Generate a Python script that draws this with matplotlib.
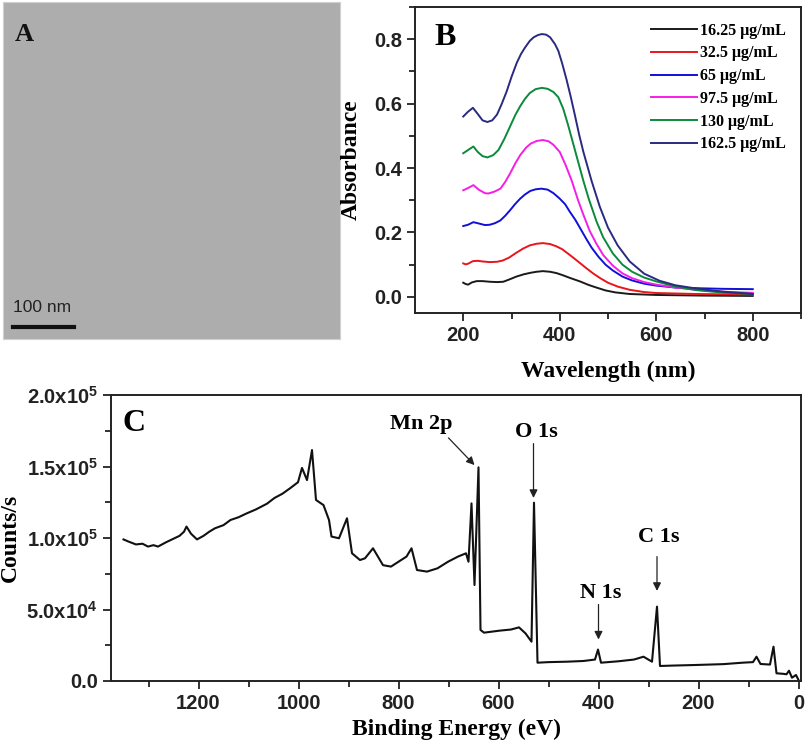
import matplotlib
matplotlib.use('Agg')
import matplotlib.pyplot as plt
from matplotlib.ticker import MultipleLocator, FixedLocator, FixedFormatter

plt.rcParams['font.family'] = ['Liberation Sans', 'DejaVu Sans']
plt.rcParams['mathtext.fontset'] = 'custom'
plt.rcParams['mathtext.rm'] = 'Liberation Sans:bold'
plt.rcParams['mathtext.it'] = 'Liberation Sans:bold'
plt.rcParams['mathtext.bf'] = 'Liberation Sans:bold'

SERIF = 'Liberation Serif'

### Panel B data: UV-vis absorbance
uv_labels = ['16.25 \u03bcg/mL', '32.5 \u03bcg/mL', '65 \u03bcg/mL',
             '97.5 \u03bcg/mL', '130 \u03bcg/mL', '162.5 \u03bcg/mL']
uv_colors = ['#1a1a1a', '#e8161b', '#1010d8', '#f51ee6', '#0a8a3a', '#2a2a80']

wl_black = [200, 205, 210, 218, 228, 240, 255, 270, 283, 297, 310, 325, 340, 352, 365, 380, 393, 405,
            421, 442, 460, 476, 495, 515, 545, 600, 700, 800]
ab_black = [0.044, 0.040, 0.038, 0.045, 0.049, 0.049, 0.047, 0.046, 0.047, 0.055, 0.063, 0.070, 0.075, 0.078, 0.080, 0.078, 0.074, 0.068,
            0.059, 0.048, 0.037, 0.029, 0.020, 0.014, 0.009, 0.006, 0.004, 0.003]

wl_red = [200, 205, 210, 220, 230, 240, 255, 270, 282, 295, 310, 324, 338, 352, 365, 380, 393, 405,
          421, 432, 442, 456, 470, 484, 500, 520, 545, 575, 600, 683, 800]
ab_red = [0.104, 0.101, 0.103, 0.111, 0.112, 0.110, 0.108, 0.109, 0.113, 0.122, 0.137, 0.150, 0.160, 0.165, 0.167, 0.164, 0.157, 0.148,
          0.130, 0.117, 0.105, 0.088, 0.072, 0.058, 0.044, 0.032, 0.022, 0.015, 0.012, 0.009, 0.007]

wl_blue = [200, 210, 221, 232, 245, 255, 266, 277, 287, 297, 308, 318, 328, 339, 350, 362, 375, 387, 400,
           411, 421, 432, 442, 455, 466, 480, 495, 510, 530, 550, 575, 600, 640, 683, 740, 800]
ab_blue = [0.220, 0.224, 0.232, 0.228, 0.223, 0.224, 0.229, 0.2375, 0.252, 0.269, 0.289, 0.305, 0.318, 0.329, 0.334, 0.336, 0.333, 0.322, 0.305,
           0.288, 0.264, 0.240, 0.214, 0.180, 0.153, 0.125, 0.100, 0.082, 0.063, 0.051, 0.041, 0.035, 0.029, 0.027, 0.025, 0.024]

wl_mag = [200, 210, 221, 232, 245, 252, 265, 277, 287, 297, 308, 318, 330, 340, 352, 365, 377, 387, 400,
          412, 425, 438, 449, 462, 476, 490, 510, 530, 550, 575, 600, 640, 683, 740, 800]
ab_mag = [0.331, 0.338, 0.347, 0.333, 0.322, 0.321, 0.327, 0.336, 0.357, 0.383, 0.415, 0.440, 0.463, 0.476, 0.484, 0.487, 0.483, 0.472, 0.450,
          0.410, 0.360, 0.300, 0.255, 0.205, 0.165, 0.130, 0.097, 0.073, 0.058, 0.046, 0.038, 0.029, 0.022, 0.016, 0.0125]

wl_green = [200, 210, 221, 230, 240, 250, 262, 273, 285, 297, 308, 318, 328, 338, 350, 363, 375, 387, 397,
            407, 417, 428, 438, 449, 460, 476, 490, 510, 530, 550, 575, 600, 640, 683, 740, 800]
ab_green = [0.446, 0.456, 0.467, 0.450, 0.437, 0.433, 0.440, 0.456, 0.490, 0.529, 0.565, 0.592, 0.615, 0.633, 0.645, 0.649, 0.646, 0.636, 0.620,
            0.585, 0.535, 0.475, 0.420, 0.360, 0.305, 0.235, 0.185, 0.135, 0.100, 0.078, 0.060, 0.048, 0.032, 0.021, 0.013, 0.009]

wl_navy = [200, 210, 220, 230, 240, 250, 260, 270, 280, 290, 300, 311, 320, 328, 338, 346, 355, 363, 372, 380, 390, 397,
           405, 414, 423, 432, 440, 449, 466, 483, 500, 520, 545, 575, 607, 640, 683, 740, 800]
ab_navy = [0.560, 0.575, 0.587, 0.568, 0.548, 0.543, 0.548, 0.566, 0.600, 0.638, 0.683, 0.727, 0.755, 0.774, 0.795, 0.806, 0.813, 0.816, 0.814, 0.806, 0.785, 0.764,
           0.725, 0.675, 0.620, 0.560, 0.505, 0.450, 0.360, 0.280, 0.215, 0.160, 0.110, 0.072, 0.050, 0.036, 0.026, 0.016, 0.009]

uv_wl = [wl_black, wl_red, wl_blue, wl_mag, wl_green, wl_navy]
uv_ab = [ab_black, ab_red, ab_blue, ab_mag, ab_green, ab_navy]

### Panel C data: XPS survey spectrum
be = [1350, 1340, 1325, 1312, 1301, 1290, 1281, 1265, 1250, 1238, 1229, 1224, 1215, 1203,
      1190, 1178, 1167, 1150, 1136, 1120, 1105, 1085, 1063, 1048, 1032, 1016, 1001, 993,
      983, 973, 965, 950, 939, 934, 919, 903, 893, 877, 867, 851, 831, 815, 800, 784,
      774, 763, 743, 722, 701, 681, 665, 660, 654, 648, 640, 636, 629, 598, 575, 559,
      546, 534, 529, 522, 500, 463, 430, 407, 401, 395, 360, 329, 310, 293, 283, 277,
      250, 205, 150, 112, 91, 84, 76, 57, 50, 44, 30, 24, 19, 13, 5, 0]
cps = [99000, 97500, 95500, 96000, 94000, 95000, 94000, 97000, 99500, 101500, 104400, 108000, 103000, 99000,
       101500, 104500, 106800, 109000, 112600, 114500, 117000, 120000, 124000, 128000, 131000, 135000, 139000, 149000,
       140500, 161500, 126600, 123000, 112600, 101000, 99800, 113800, 89300, 84600, 85800, 92800, 81000, 80000, 83400, 87000,
       92800, 77600, 76500, 78800, 83400, 87000, 89300, 83400, 124200, 67100, 149400, 35700, 33800, 35200, 36000, 37500,
       33300, 27500, 124700, 12800, 13200, 13500, 14000, 15000, 22000, 12800, 13800, 15000, 17000, 13500, 52000, 10500,
       10800, 11200, 11800, 12800, 13200, 17000, 11900, 11500, 24000, 5400, 5000, 4700, 7200, 2300, 4200, 700]

peak_names = ['Mn 2p', 'O 1s', 'N 1s', 'C 1s']
peak_text_xy = [(755, 180000), (525, 174000), (396, 61300), (280, 101000)]
peak_arrow_tail = [(700, 170000), (530, 166000), (400, 53500), (283, 87000)]
peak_arrow_head = [(648, 151000), (530, 128000), (400, 29000), (283, 63000)]

c_yticks = [0, 50000, 100000, 150000, 200000]
c_yticklabels = ['0.0', '5.0x10$^{4}$', '1.0x10$^{5}$', '1.5x10$^{5}$', '2.0x10$^{5}$']


def style_axes(ax):
    for s in ax.spines.values():
        s.set_linewidth(1.4)
        s.set_color('#222222')
    ax.tick_params(which='both', direction='out', width=1.3, colors='#222222',
                   top=False, right=False)
    ax.tick_params(which='major', length=6, labelsize=14.5)
    ax.tick_params(which='minor', length=4)
    for lab in ax.get_xticklabels() + ax.get_yticklabels():
        lab.set_fontweight('bold')


fig = plt.figure(figsize=(8.09, 7.45), dpi=100)
W, H = 809, 745

### Panel A: micrograph placeholder
axA = fig.add_axes([3 / W, (H - 339) / H, 337 / W, 337 / H])
axA.set_facecolor('#adadad')
axA.set_xlim(0, 1)
axA.set_ylim(0, 1)
axA.set_xticks([])
axA.set_yticks([])
for s in axA.spines.values():
    s.set_color('#d0d0d0')
axA.text(0.035, 0.905, 'A', family=SERIF, fontweight='bold', fontsize=19,
         transform=axA.transAxes, va='center', ha='left', color='#111111')
axA.plot([0.03, 0.21], [0.035, 0.035], color='#111111', lw=3, transform=axA.transAxes)
axA.text(0.03, 0.07, '100 nm', fontsize=12.5, color='#222222', transform=axA.transAxes,
         va='bottom', ha='left')

### Panel B
axB = fig.add_axes([415 / W, (H - 313) / H, 386 / W, 306 / H])
for wl, ab, lab, col in zip(uv_wl, uv_ab, uv_labels, uv_colors):
    axB.plot(wl, ab, color=col, lw=1.4, label=lab)
axB.set_xlim(100, 900)
axB.set_ylim(-0.05, 0.9)
axB.xaxis.set_major_locator(FixedLocator([200, 400, 600, 800]))
axB.xaxis.set_minor_locator(FixedLocator([300, 500, 700, 900]))
axB.yaxis.set_major_locator(MultipleLocator(0.2))
axB.yaxis.set_minor_locator(MultipleLocator(0.1))
axB.yaxis.set_major_formatter(plt.FuncFormatter(lambda v, p: '%.1f' % v))
style_axes(axB)
axB.set_xlabel('Wavelength (nm)', family=SERIF, fontweight='bold', fontsize=17, labelpad=11)
axB.set_ylabel('Absorbance', family=SERIF, fontweight='bold', fontsize=17, labelpad=9)
axB.text(0.05, 0.9, 'B', family=SERIF, fontweight='bold', fontsize=23,
         transform=axB.transAxes, va='center', ha='left')
axB.legend(loc='upper right', bbox_to_anchor=(0.99, 0.985), frameon=False,
           prop={'family': SERIF, 'weight': 'bold', 'size': 11.5},
           handlelength=2.9, handletextpad=0.2, labelspacing=0.42, borderpad=0.2)

### Panel C
axC = fig.add_axes([111 / W, (H - 681) / H, 690 / W, 286 / H])
axC.plot(be, cps, color='#111111', lw=1.5)
axC.set_xlim(1375, -5)
axC.set_ylim(0, 200000)
axC.xaxis.set_major_locator(FixedLocator([1200, 1000, 800, 600, 400, 200, 0]))
axC.xaxis.set_minor_locator(FixedLocator([1300, 1100, 900, 700, 500, 300, 100]))
axC.yaxis.set_major_locator(FixedLocator(c_yticks))
axC.yaxis.set_major_formatter(FixedFormatter(c_yticklabels))
axC.yaxis.set_minor_locator(MultipleLocator(25000))
style_axes(axC)
axC.set_xlabel('Binding Energy (eV)', family=SERIF, fontweight='bold', fontsize=17, labelpad=4)
axC.set_ylabel('Counts/s', family=SERIF, fontweight='bold', fontsize=17, labelpad=4)
axC.text(1330, 180000, 'C', family=SERIF, fontweight='bold', fontsize=23,
         va='center', ha='center')
for name, txy, tail, head in zip(peak_names, peak_text_xy, peak_arrow_tail, peak_arrow_head):
    axC.text(txy[0], txy[1], name, family=SERIF, fontweight='bold', fontsize=16,
             ha='center', va='center')
    axC.annotate('', xy=head, xytext=tail,
                 arrowprops=dict(arrowstyle='-|>', color='#222222', lw=0.9,
                                 mutation_scale=12, shrinkA=0, shrinkB=0))

fig.savefig('out.png', dpi=100)
